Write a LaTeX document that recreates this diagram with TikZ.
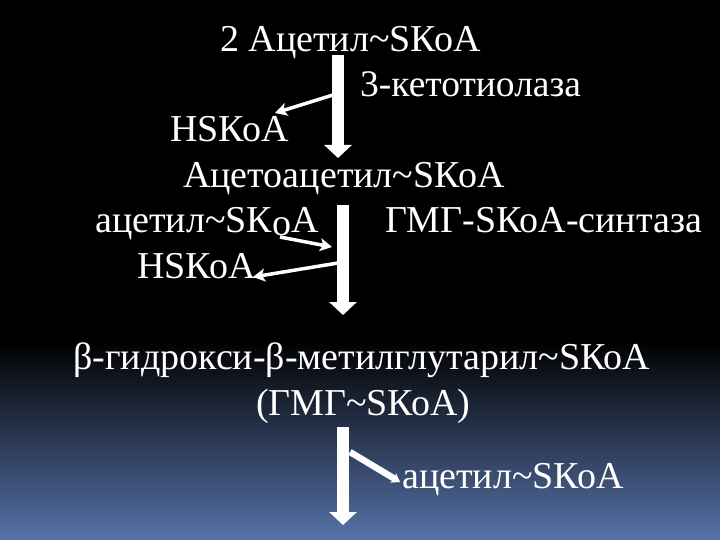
\documentclass[tikz,border=0pt]{standalone}
\usepackage{fontspec}
\setmainfont{Liberation Serif}
\usetikzlibrary{arrows.meta}
\definecolor{bgblue}{RGB}{86,114,166}
\begin{document}
\begin{tikzpicture}[x=1pt,y=-1pt,
  txt/.style={anchor=base west, inner sep=0pt, text=white, font=\fontsize{38}{40}\selectfont},
  bigarrow/.style={draw=white, line width=12pt, -{Triangle[width=27pt,length=13pt]}},
  smallarrow/.style={draw=white, line width=3.5pt, -{Stealth[length=12pt,width=13pt,inset=3pt]}},
  brancharrow/.style={draw=white, line width=6.5pt, -{Stealth[length=8pt,width=11pt,inset=2pt]}}]
\fill[black] (0,0) rectangle (720,340);
\shade[top color=black,bottom color=bgblue] (0,340) rectangle (720,540);
\useasboundingbox (0,0) rectangle (720,540);

\node[txt] (t1) at (220,52) {2 Ацетил\textasciitilde SКоА};
\node[txt, font=\fontsize{37.5}{40}\selectfont] (t2) at (360,97) {3-кетотиолаза};
\node[txt] (t3) at (170,142) {HSКоА};
\node[txt] (t4) at (183,188) {Ацетоацетил\textasciitilde SКоА};
\node[txt] (t5) at (95,233) {ацетил\textasciitilde SК\raisebox{-3pt}{о}А};
\node[txt] (t6) at (385,233) {ГМГ-SКоА-синтаза};
\node[txt] (t7) at (137,278) {HSКоА};
\node[txt] (t8) at (73,369) {β-гидрокси-β-метилглутарил\textasciitilde SКоА};
\node[txt] (t9) at (256,415) {(ГМГ\textasciitilde SКоА)};
\node[txt] (t10) at (402,488) {ацетил\textasciitilde SКоА};

\coordinate (a1s) at (338,55);  \coordinate (a1e) at (338,158);
\coordinate (a2s) at (343,205); \coordinate (a2e) at (343,315);
\coordinate (a3s) at (343,427); \coordinate (a3e) at (343,525);
\coordinate (s1s) at (333,95);  \coordinate (s1e) at (275,113);
\coordinate (s2s) at (280,237); \coordinate (s2e) at (332,247);
\coordinate (s3s) at (338,263); \coordinate (s3e) at (253,277);
\coordinate (b1s) at (350,452); \coordinate (b1e) at (400,482);

\draw[bigarrow] (a1s) -- (a1e);
\draw[bigarrow] (a2s) -- (a2e);
\draw[bigarrow] (a3s) -- (a3e);
\draw[smallarrow] (s1s) -- (s1e);
\draw[smallarrow] (s2s) -- (s2e);
\draw[smallarrow] (s3s) -- (s3e);
\draw[brancharrow] (b1s) -- (b1e);
\end{tikzpicture}
\end{document}
